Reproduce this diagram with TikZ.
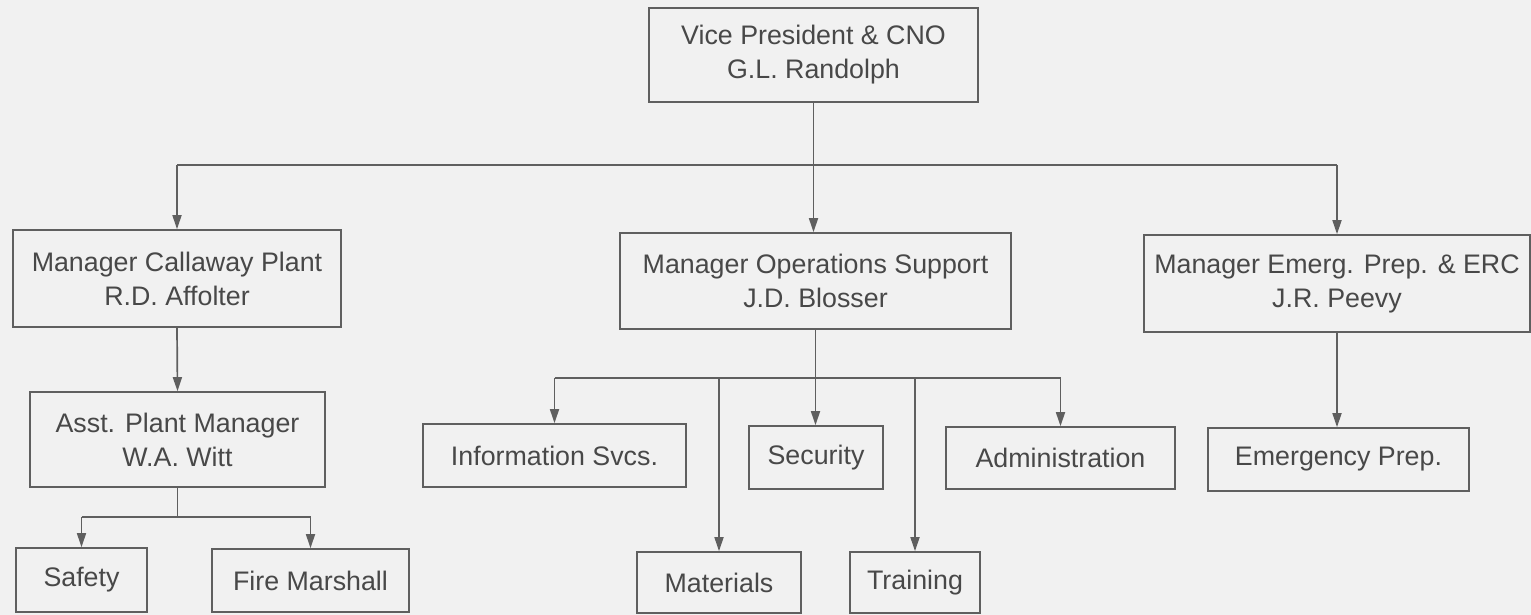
\documentclass[tikz,border=0pt]{standalone}
\usepackage{fontspec}
\setmainfont{Liberation Sans}
\usetikzlibrary{arrows.meta}
\definecolor{bg}{RGB}{241,241,241}
\definecolor{lncol}{RGB}{95,95,95}
\definecolor{txcol}{RGB}{72,72,72}
\begin{document}
\begin{tikzpicture}[x=1pt,y=-1pt,
  box/.style={draw=lncol, line width=1.7pt, text=txcol, font=\fontsize{26.8}{34}\selectfont, align=center, inner sep=0pt},
  wire/.style={draw=lncol, line width=1.7pt},
  arr/.style={wire, -{Triangle[length=14pt,width=9pt]}}]
\fill[bg] (0,0) rectangle (1531,615);
\useasboundingbox (0,0) rectangle (1531,615);
% level 0
\node[box, minimum width=329pt, minimum height=94pt] (top) at (813.5,55) {Vice President \& CNO\\G.L. Randolph};
% level 1
\node[box, minimum width=328pt, minimum height=97pt] (cal) at (177,278.5) {Manager Callaway Plant\\R.D. Affolter};
\node[box, minimum width=391pt, minimum height=96pt] (ops) at (815.5,281) {Manager Operations Support\\J.D. Blosser};
\node[box, minimum width=386pt, minimum height=97pt] (emg) at (1337,283.5) {Manager Emerg. Prep. \& ERC\\J.R. Peevy};
% left branch
\node[box, minimum width=295pt, minimum height=95pt] (asst) at (177.5,439.5) {Asst. Plant Manager\\W.A. Witt};
\node[box, minimum width=131pt, minimum height=64pt] (saf) at (81.5,580) {Safety};
\node[box, minimum width=197pt, minimum height=63pt] (fire) at (310.5,580.5) {Fire Marshall};
% middle branch
\node[box, minimum width=263pt, minimum height=63pt] (info) at (554.5,455.5) {Information Svcs.};
\node[box, minimum width=134pt, minimum height=63pt] (sec) at (816,457.5) {Security};
\node[box, minimum width=229pt, minimum height=62pt] (adm) at (1060.5,458) {Administration};
\node[box, minimum width=164pt, minimum height=61pt] (mat) at (719,582.5) {Materials};
\node[box, minimum width=130pt, minimum height=61pt] (trn) at (915,582.5) {Training};
% right branch
\node[box, minimum width=261pt, minimum height=63pt] (eprep) at (1338.5,459.5) {Emergency Prep.};
% bus coordinates
\coordinate (busA) at (0,165);
\coordinate (busB) at (0,517);
\coordinate (busC) at (0,378);
% top level connectors
\draw[wire] (cal.north |- busA) -- (emg.north |- busA);
\draw[arr] (top.south) -- (top.south |- ops.north);
\draw[arr] (cal.north |- busA) -- (cal.north);
\draw[arr] (emg.north |- busA) -- (emg.north);
% left
\draw[arr] (cal.south) -- (asst.north);
\draw[wire] (asst.south) -- (asst.south |- busB);
\draw[wire] (saf.north |- busB) -- (fire.north |- busB);
\draw[arr] (saf.north |- busB) -- (saf.north);
\draw[arr] (fire.north |- busB) -- (fire.north);
% middle
\draw[wire] (info.north |- busC) -- (adm.north |- busC);
\draw[arr] (info.north |- busC) -- (info.north);
\draw[arr] (ops.south) -- (ops.south |- sec.north);
\draw[arr] (adm.north |- busC) -- (adm.north);
\draw[arr] (mat.north |- busC) -- (mat.north);
\draw[arr] (trn.north |- busC) -- (trn.north);
% right
\draw[arr] (emg.south) -- (emg.south |- eprep.north);
\end{tikzpicture}
\end{document}
